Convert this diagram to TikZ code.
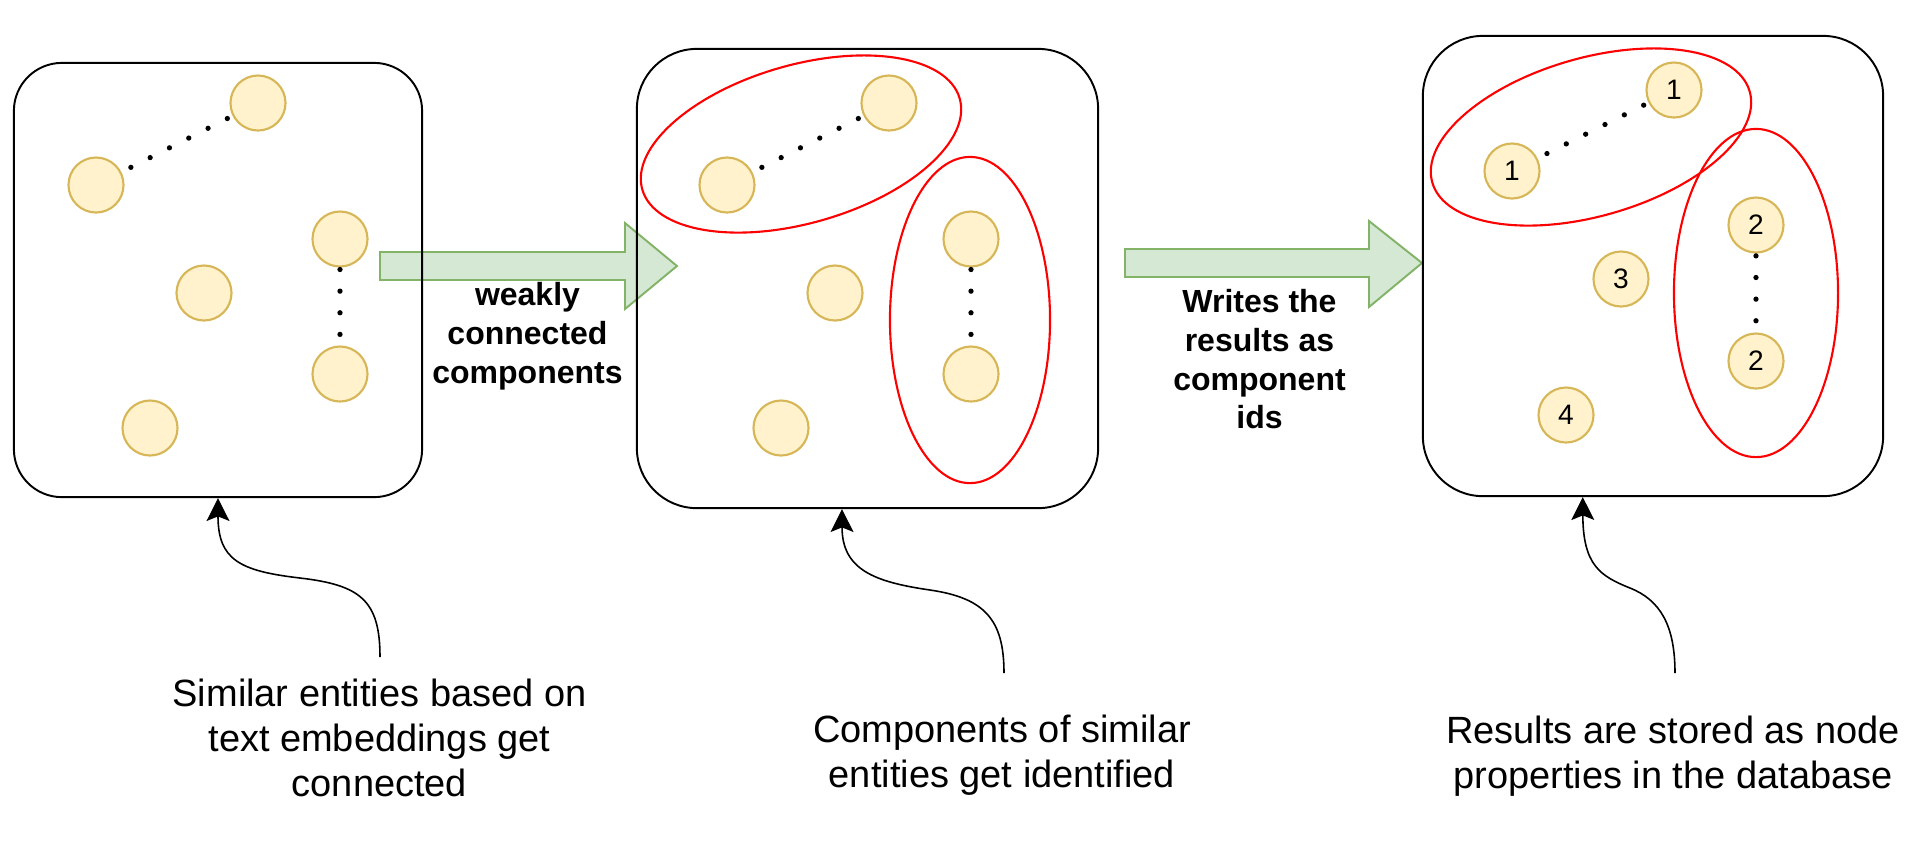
\documentclass[tikz,border=0pt]{standalone}
\usepackage{fontspec}
\setmainfont{Liberation Sans}
\usetikzlibrary{arrows.meta,calc}

\definecolor{entityfill}{HTML}{FFF2CC}
\definecolor{entityline}{HTML}{D6B656}
\definecolor{arrowfill}{HTML}{D5E8D4}
\definecolor{arrowline}{HTML}{82B366}
\definecolor{groupred}{HTML}{FF0000}

\tikzset{
  panel/.style={rectangle,draw=black,line width=0.55pt},
  entity/.style={circle,minimum size=0.55cm,inner sep=0pt,draw=entityline,fill=entityfill,line width=0.6pt,font=\fontsize{8pt}{9pt}\selectfont},
  dotlink/.style={line width=1.5pt,line cap=round,dash pattern=on 0pt off 6.15pt,dash phase=#1},
  cluster/.style={draw=groupred,line width=0.6pt},
  flowarrow/.style={draw=arrowline,fill=arrowfill,line width=0.55pt},
  flowlabel/.style={align=center,inner sep=0pt,anchor=north,font=\bfseries\fontsize{9.1pt}{11pt}\selectfont},
  notetext/.style={align=center,inner sep=0pt,anchor=north,font=\fontsize{10.8pt}{12.8pt}\selectfont},
  pointer/.style={line width=0.45pt,-{Stealth[length=6.5pt,width=6.5pt,inset=1.3pt]}}
}

\begin{document}
\begin{tikzpicture}[x=0.01cm,y=-0.01cm]
\useasboundingbox (0,0) rectangle (1920,850);

% fat arrows between the panels
\draw[flowarrow] (380,252) -- (625,252) -- (625,223) -- (677,266) -- (625,309) -- (625,280) -- (380,280) -- cycle;
\draw[flowarrow] (1125,249) -- (1369,249) -- (1369,221) -- (1422,263) -- (1369,307) -- (1369,277) -- (1125,277) -- cycle;

% panels
\node at (218,280)[panel,minimum width=4.08cm,minimum height=4.34cm,rounded corners=0.48cm](box1){};
\node at (867.5,278.5)[panel,minimum width=4.61cm,minimum height=4.59cm,rounded corners=0.6cm](box2){};
\node at (1653,266)[panel,minimum width=4.6cm,minimum height=4.6cm,rounded corners=0.6cm](box3){};

% first panel
\node at (258,103)[entity](11){};
\node at (96,185)[entity](12){};
\node at (340,239)[entity](13){};
\node at (204,293)[entity](14){};
\node at (340,374)[entity](15){};
\node at (150,428)[entity](16){};
\draw[dotlink=3.16pt] (12) -- (11);
\draw[dotlink=5.6pt] (13) -- (15);

% second panel
\draw[cluster,rotate around={16:(801,144)}] (801,144) ellipse (1.65cm and 0.79cm);
\draw[cluster] (970,320) ellipse (0.8cm and 1.63cm);
\node at (889,103)[entity](21){};
\node at (727,185)[entity](22){};
\node at (971,239)[entity](23){};
\node at (835,293)[entity](24){};
\node at (971,374)[entity](25){};
\node at (781,428)[entity](26){};
\draw[dotlink=3.16pt] (22) -- (21);
\draw[dotlink=5.6pt] (23) -- (25);

% third panel
\draw[cluster,rotate around={16:(1591,137)}] (1591,137) ellipse (1.65cm and 0.79cm);
\draw[cluster] (1756,293) ellipse (0.82cm and 1.64cm);
\node at (1674,90)[entity](31){1};
\node at (1512,171)[entity](32){1};
\node at (1756,225)[entity](33){2};
\node at (1621,279)[entity](34){3};
\node at (1756,361)[entity](35){2};
\node at (1566,415)[entity](36){4};
\draw[dotlink=3.16pt] (32) -- (31);
\draw[dotlink=5.5pt] (33) -- (35);

% arrow labels
\node at (527.5,282)[flowlabel](wcc){weakly\\connected\\components};
\node at (1259.5,289)[flowlabel](writes){Writes the\\results as\\component\\ids};

% notes below
\node at (379.5,678)[notetext](lab1){Similar entities based on\\text embeddings get\\connected};
\node at (1002,714)[notetext](lab2){Components of similar\\entities get identified};
\node at (1673,715)[notetext](lab3){Results are stored as node\\properties in the database};

\coordinate (c1) at (380,657);
\coordinate (c2) at (1004,673);
\coordinate (c3) at (1675,673);
\draw[pointer] (c1) .. controls (380,600) and (360,585) .. (300,578) .. controls (240,571) and (218,560) .. (box1.south);
\draw[pointer] (c2) .. controls (1004,620) and (985,598) .. (930,590) .. controls (875,582) and (842,570) .. ($(box2.south west)!0.445!(box2.south east)$);
\draw[pointer] (c3) .. controls (1675,625) and (1660,600) .. (1630,588) .. controls (1600,576) and (1583,565) .. ($(box3.south west)!0.348!(box3.south east)$);
\end{tikzpicture}
\end{document}
